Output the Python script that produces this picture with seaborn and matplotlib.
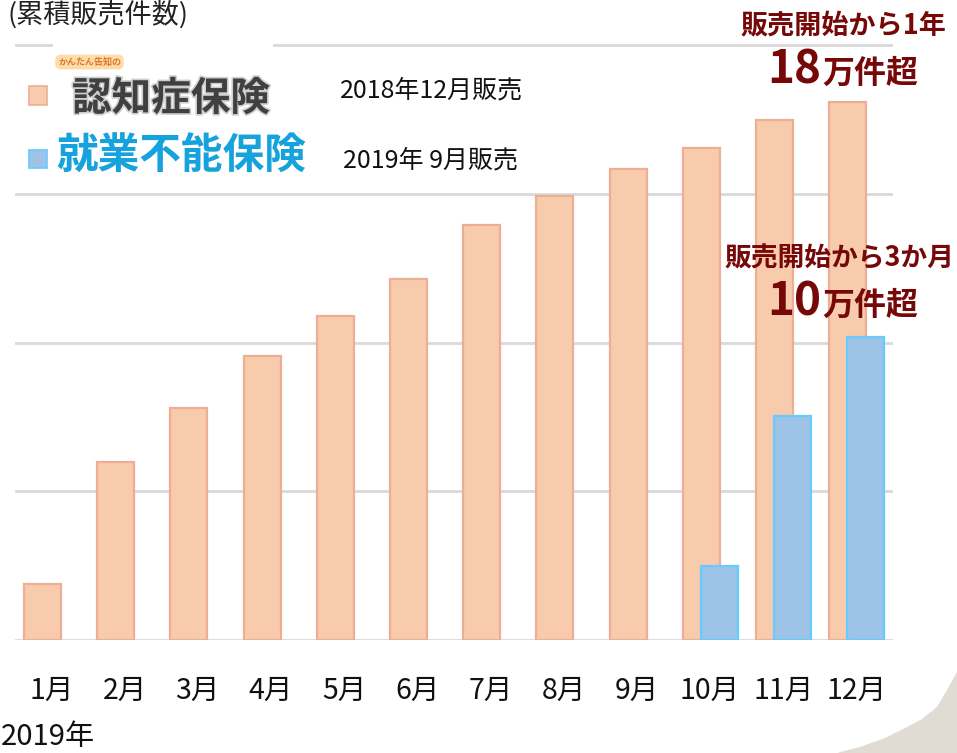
import matplotlib
matplotlib.use("Agg")
import matplotlib.pyplot as plt
import matplotlib.patheffects as pe
from matplotlib.patches import Rectangle, Polygon
import numpy as np
import pandas as pd
import seaborn as sns

# ---------------- data (万件, cumulative) ----------------
months = ["1月", "2月", "3月", "4月", "5月", "6月", "7月", "8月", "9月", "10月", "11月", "12月"]
ninchi_values = [1.9, 6.0, 7.8, 9.55, 10.9, 12.15, 13.95, 14.95, 15.85, 16.55, 17.5, 18.1]
shugyo_months = ["10月", "11月", "12月"]
shugyo_values = [2.5, 7.55, 10.2]
y_ticks = [0, 5, 10, 15, 20]

W, H = 957, 753
sns.set_theme(style="white")
plt.rcParams['font.family'] = ['Noto Sans CJK JP', 'DejaVu Sans']

fig = plt.figure(figsize=(W / 100, H / 100), dpi=100)
fig.patch.set_facecolor("white")


def fx(x):
    return x / W


def fy(y):
    return 1 - y / H


ax = fig.add_axes([fx(15), fy(640), fx(893) - fx(15), fy(44) - fy(640)])

orange_fill = "#F8CBAD"
orange_edge = "#EDAE96"
blue_fill = "#9DC3E6"
blue_edge = "#66CCFF"

pos = {m: i for i, m in enumerate(months)}
df_o = pd.DataFrame({"pos": [pos[m] for m in months], "val": ninchi_values})
blue_offset = 0.25
df_b = pd.DataFrame({"pos": [pos[m] + blue_offset for m in shugyo_months], "val": shugyo_values})

sns.barplot(data=df_o, x="pos", y="val", native_scale=True, width=0.505,
            color=orange_fill, saturation=1, edgecolor=orange_edge, linewidth=1.6,
            ax=ax, zorder=3)
sns.barplot(data=df_b, x="pos", y="val", native_scale=True, width=0.505,
            color=blue_fill, saturation=1, edgecolor=blue_edge, linewidth=1.6,
            ax=ax, zorder=4)

ax.set_xlim(-0.376, 11.62)
ax.set_ylim(0, 20.05)
ax.set_yticks(y_ticks)
ax.set_yticklabels([])
ax.yaxis.grid(True, color="#D9D9D9", linewidth=2)
ax.set_axisbelow(True)
ax.set_xticks([i + 0.12 for i in range(len(months))])
ax.set_xticklabels(months, fontsize=20.5, color="#111111")
ax.tick_params(axis="both", length=0)
ax.tick_params(axis="x", pad=26)
ax.set_xlabel("")
ax.set_ylabel("")
for s in ax.spines.values():
    s.set_visible(False)

# white box behind legend image area
fig.patches.append(Rectangle((fx(53), fy(185)), fx(273) - fx(53), fy(38) - fy(185),
                             transform=fig.transFigure, facecolor="white", edgecolor="none", zorder=2))

# legend squares
fig.patches.append(Rectangle((fx(29), fy(105)), fx(47) - fx(29), fy(86) - fy(105),
                             transform=fig.transFigure, facecolor=orange_fill, edgecolor=orange_edge,
                             linewidth=1.2, zorder=3))
fig.patches.append(Rectangle((fx(29), fy(168)), fx(47) - fx(29), fy(150) - fy(168),
                             transform=fig.transFigure, facecolor=blue_fill, edgecolor=blue_edge,
                             linewidth=1.2, zorder=3))

# legend labels
fig.text(fx(58), fy(62), "かんたん告知の", fontsize=6.5, color="#E0782A", fontweight="bold",
         ha="left", va="center", zorder=4,
         bbox=dict(boxstyle="round,pad=0.3,rounding_size=0.6", facecolor="#FCD9A0", edgecolor="none", alpha=0.9))
fig.text(fx(72), fy(99), "認知症保険", fontsize=28.5, color="#404040", fontweight="bold",
         ha="left", va="center", zorder=4,
         path_effects=[pe.withStroke(linewidth=2.5, foreground="#B0B0B0", alpha=0.6)])
fig.text(fx(56), fy(157), "就業不能保険", fontsize=30, color="#16A2DC", fontweight="bold",
         ha="left", va="center", zorder=4)
fig.text(fx(340), fy(90), "2018年12月販売", fontsize=18, color="#111111", ha="left", va="center", zorder=4)
fig.text(fx(343), fy(160), "2019年 9月販売", fontsize=18, color="#111111", ha="left", va="center", zorder=4)

# title
fig.text(fx(7), fy(15), "(累積販売件数)", fontsize=19.5, color="#222222", ha="left", va="center")

# annotations
red = "#760808"
fig.text(fx(843), fy(25), "販売開始から1年", fontsize=19.5, color=red, fontweight="bold",
         ha="center", va="center")
fig.text(fx(821), fy(83), "18", fontsize=33, color=red, fontweight="bold", ha="right", va="baseline")
fig.text(fx(822), fy(83), "万件超", fontsize=23, color=red, fontweight="bold", ha="left", va="baseline")
fig.text(fx(839), fy(258), "販売開始から3か月", fontsize=19.3, color=red, fontweight="bold",
         ha="center", va="center")
fig.text(fx(821), fy(315), "10", fontsize=33, color=red, fontweight="bold", ha="right", va="baseline")
fig.text(fx(822), fy(315), "万件超", fontsize=23, color=red, fontweight="bold", ha="left", va="baseline")

# year label
fig.text(fx(1), fy(737), "2019年", fontsize=21, color="#111111", ha="left", va="center")

# decorative corner
corner = [(957, 672), (947, 690), (937, 707), (922, 719), (907, 727), (885, 738),
          (860, 747), (840, 752), (838, 753), (957, 753)]
fig.patches.append(Polygon([(fx(x), fy(y)) for x, y in corner], closed=True,
                           transform=fig.transFigure, facecolor="#E0DCD4", edgecolor="none", zorder=0))

fig.savefig("out.png", dpi=100)
